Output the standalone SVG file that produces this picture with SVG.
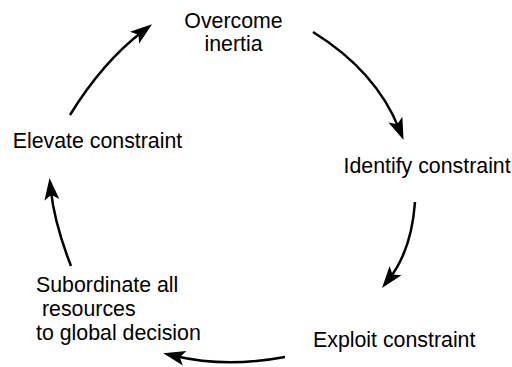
<svg xmlns="http://www.w3.org/2000/svg" width="512" height="367" viewBox="0 0 512 367">
  <style>
    .lbl { font-family: "Liberation Sans", Arial, sans-serif; font-size: 21.33px; fill: #000; }
    .mid { text-anchor: middle; }
    .arr { fill: none; stroke: #000; stroke-width: 2.5; marker-end: url(#head); }
  </style>
  <defs>
    <marker id="head" markerUnits="userSpaceOnUse" refX="0" refY="0" markerWidth="40" markerHeight="40" orient="auto" overflow="visible">
      <path d="M12,0 L-10,-7.5 L-5,0 L-10,7.5 Z" fill="#000"/>
    </marker>
  </defs>
  <rect width="512" height="367" fill="#fff"/>

  <g id="connectors">
    <path class="arr" d="M70,115 Q102.8,62 142.5,31.6"/>
    <path class="arr" d="M313,32 Q376,71 399.1,128.9"/>
    <path class="arr" d="M415,202 Q411.6,250 389.4,278.5"/>
    <path class="arr" d="M285,357 Q226,368 174.9,356"/>
    <path class="arr" d="M71,266 Q54.4,223.4 50.8,189.9"/>
  </g>

  <g id="overcome-inertia">
    <text class="lbl mid" x="233.5" y="28">Overcome</text>
    <text class="lbl mid" x="233.5" y="51">inertia</text>
  </g>
  <g id="identify-constraint">
    <text class="lbl" x="343.5" y="173">Identify constraint</text>
  </g>
  <g id="exploit-constraint">
    <text class="lbl" x="313" y="347">Exploit constraint</text>
  </g>
  <g id="subordinate">
    <text class="lbl" x="36" y="291.5">Subordinate all</text>
    <text class="lbl" x="36" y="315.5" xml:space="preserve" style="white-space:pre"> resources</text>
    <text class="lbl" x="36" y="339.5">to global decision</text>
  </g>
  <g id="elevate-constraint">
    <text class="lbl" x="12.7" y="148">Elevate constraint</text>
  </g>
</svg>
